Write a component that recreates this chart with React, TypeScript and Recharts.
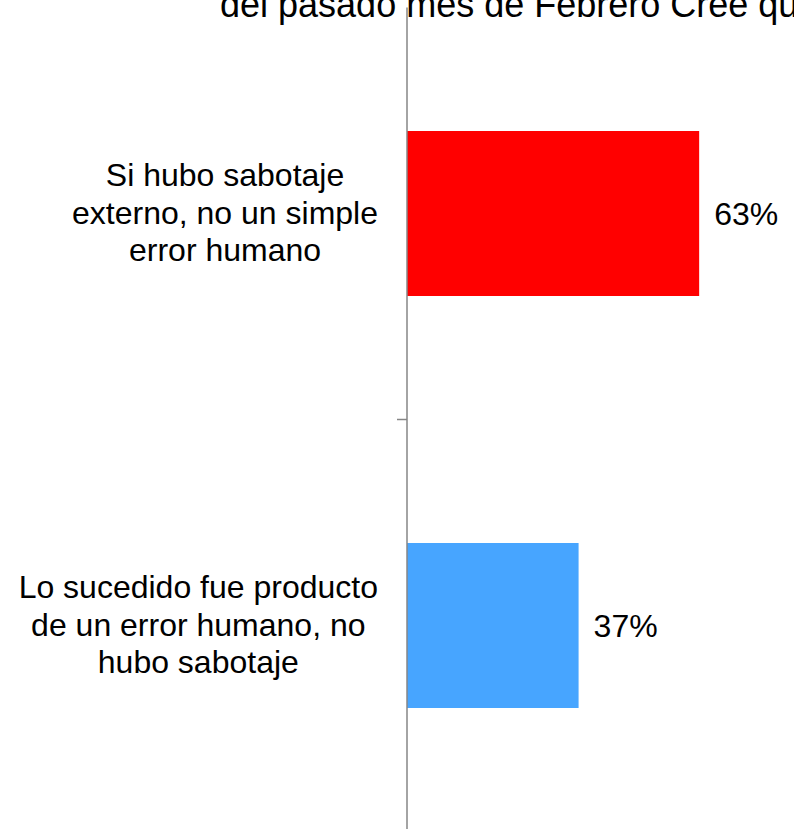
import { BarChart, Bar, XAxis, YAxis, Cell, LabelList } from 'recharts';

// categories carry their own line breaks, as in the source chart
const categories = [
  'Si hubo sabotaje\nexterno, no un simple\nerror humano',
  'Lo sucedido fue producto\nde un error humano, no\nhubo sabotaje',
];
const values = [0.63, 0.37];
const barColors = ['#FF0000', '#47A5FF'];
const titleLine = 'del pasado mes de Febrero Cree que';

const FONT = "'Liberation Sans', Arial, sans-serif";
const FONT_SIZE = 32;
const TITLE_SIZE = 36;
const LINE_HEIGHT = 37.5;
const TICK_SIZE = 10;
const TICK_MARGIN = 19;
const AXIS_COLOR = '#868686';

const chartData = categories.map((name, i) => ({ name, value: values[i] }));

let ctx: CanvasRenderingContext2D | null = null;
function measure(text: string): number {
  if (!ctx) {
    ctx = document.createElement('canvas').getContext('2d');
  }
  if (!ctx) return text.length * FONT_SIZE * 0.5;
  ctx.font = `${FONT_SIZE}px 'Liberation Sans'`;
  return ctx.measureText(text).width;
}

// Multi-line category label: block right-aligned against the axis, lines centred in the block
const CategoryTick = (props: any) => {
  const { x, y, payload, index } = props;
  const lines = String(payload.value).split('\n');
  const blockWidth = Math.max(...lines.map(measure));
  const cx = x - blockWidth / 2;
  const half = payload.offset ?? 206;
  return (
    <g>
      {lines.map((line, i) => (
        <text
          key={i}
          x={cx}
          y={y + (i - (lines.length - 1) / 2) * LINE_HEIGHT + 10}
          textAnchor="middle"
          fontSize={FONT_SIZE}
          fontFamily={FONT}
          fill="#000"
        >
          {line}
        </text>
      ))}
      {/* tick mark between categories */}
      {index === 0 && (
        <line
          x1={x + TICK_MARGIN}
          x2={x + TICK_MARGIN + TICK_SIZE}
          y1={y + half}
          y2={y + half}
          stroke={AXIS_COLOR}
          strokeWidth={1.5}
        />
      )}
    </g>
  );
};

const formatPct = (v: number) => `${Math.round(v * 100)}%`;

export default function App() {
  return (
    <div style={{ position: 'absolute', left: 0, top: 0, background: '#fff' }}>
      <BarChart
        width={794}
        height={829}
        data={chartData}
        layout="vertical"
        margin={{ top: 7.5, right: 16, left: 0, bottom: -2.5 }}
        barCategoryGap="30%"
      >
        <XAxis type="number" domain={[0, 0.8]} hide />
        <YAxis
          type="category"
          dataKey="name"
          width={407}
          tick={<CategoryTick />}
          tickLine={false}
          tickSize={TICK_SIZE}
          tickMargin={TICK_MARGIN}
          axisLine={{ stroke: AXIS_COLOR, strokeWidth: 1.5 }}
          interval={0}
        />
        <Bar dataKey="value" isAnimationActive={false}>
          {chartData.map((d, i) => (
            <Cell key={d.name} fill={barColors[i]} />
          ))}
          <LabelList
            dataKey="value"
            position="right"
            offset={15}
            formatter={(v: any) => formatPct(Number(v))}
            style={{ fontSize: FONT_SIZE, fontFamily: FONT, fill: '#000' }}
          />
        </Bar>
        {/* first visible line of the (cropped) title */}
        <text x={220} y={17} fontSize={TITLE_SIZE} fontFamily={FONT} fill="#000">
          {titleLine}
        </text>
      </BarChart>
    </div>
  );
}
